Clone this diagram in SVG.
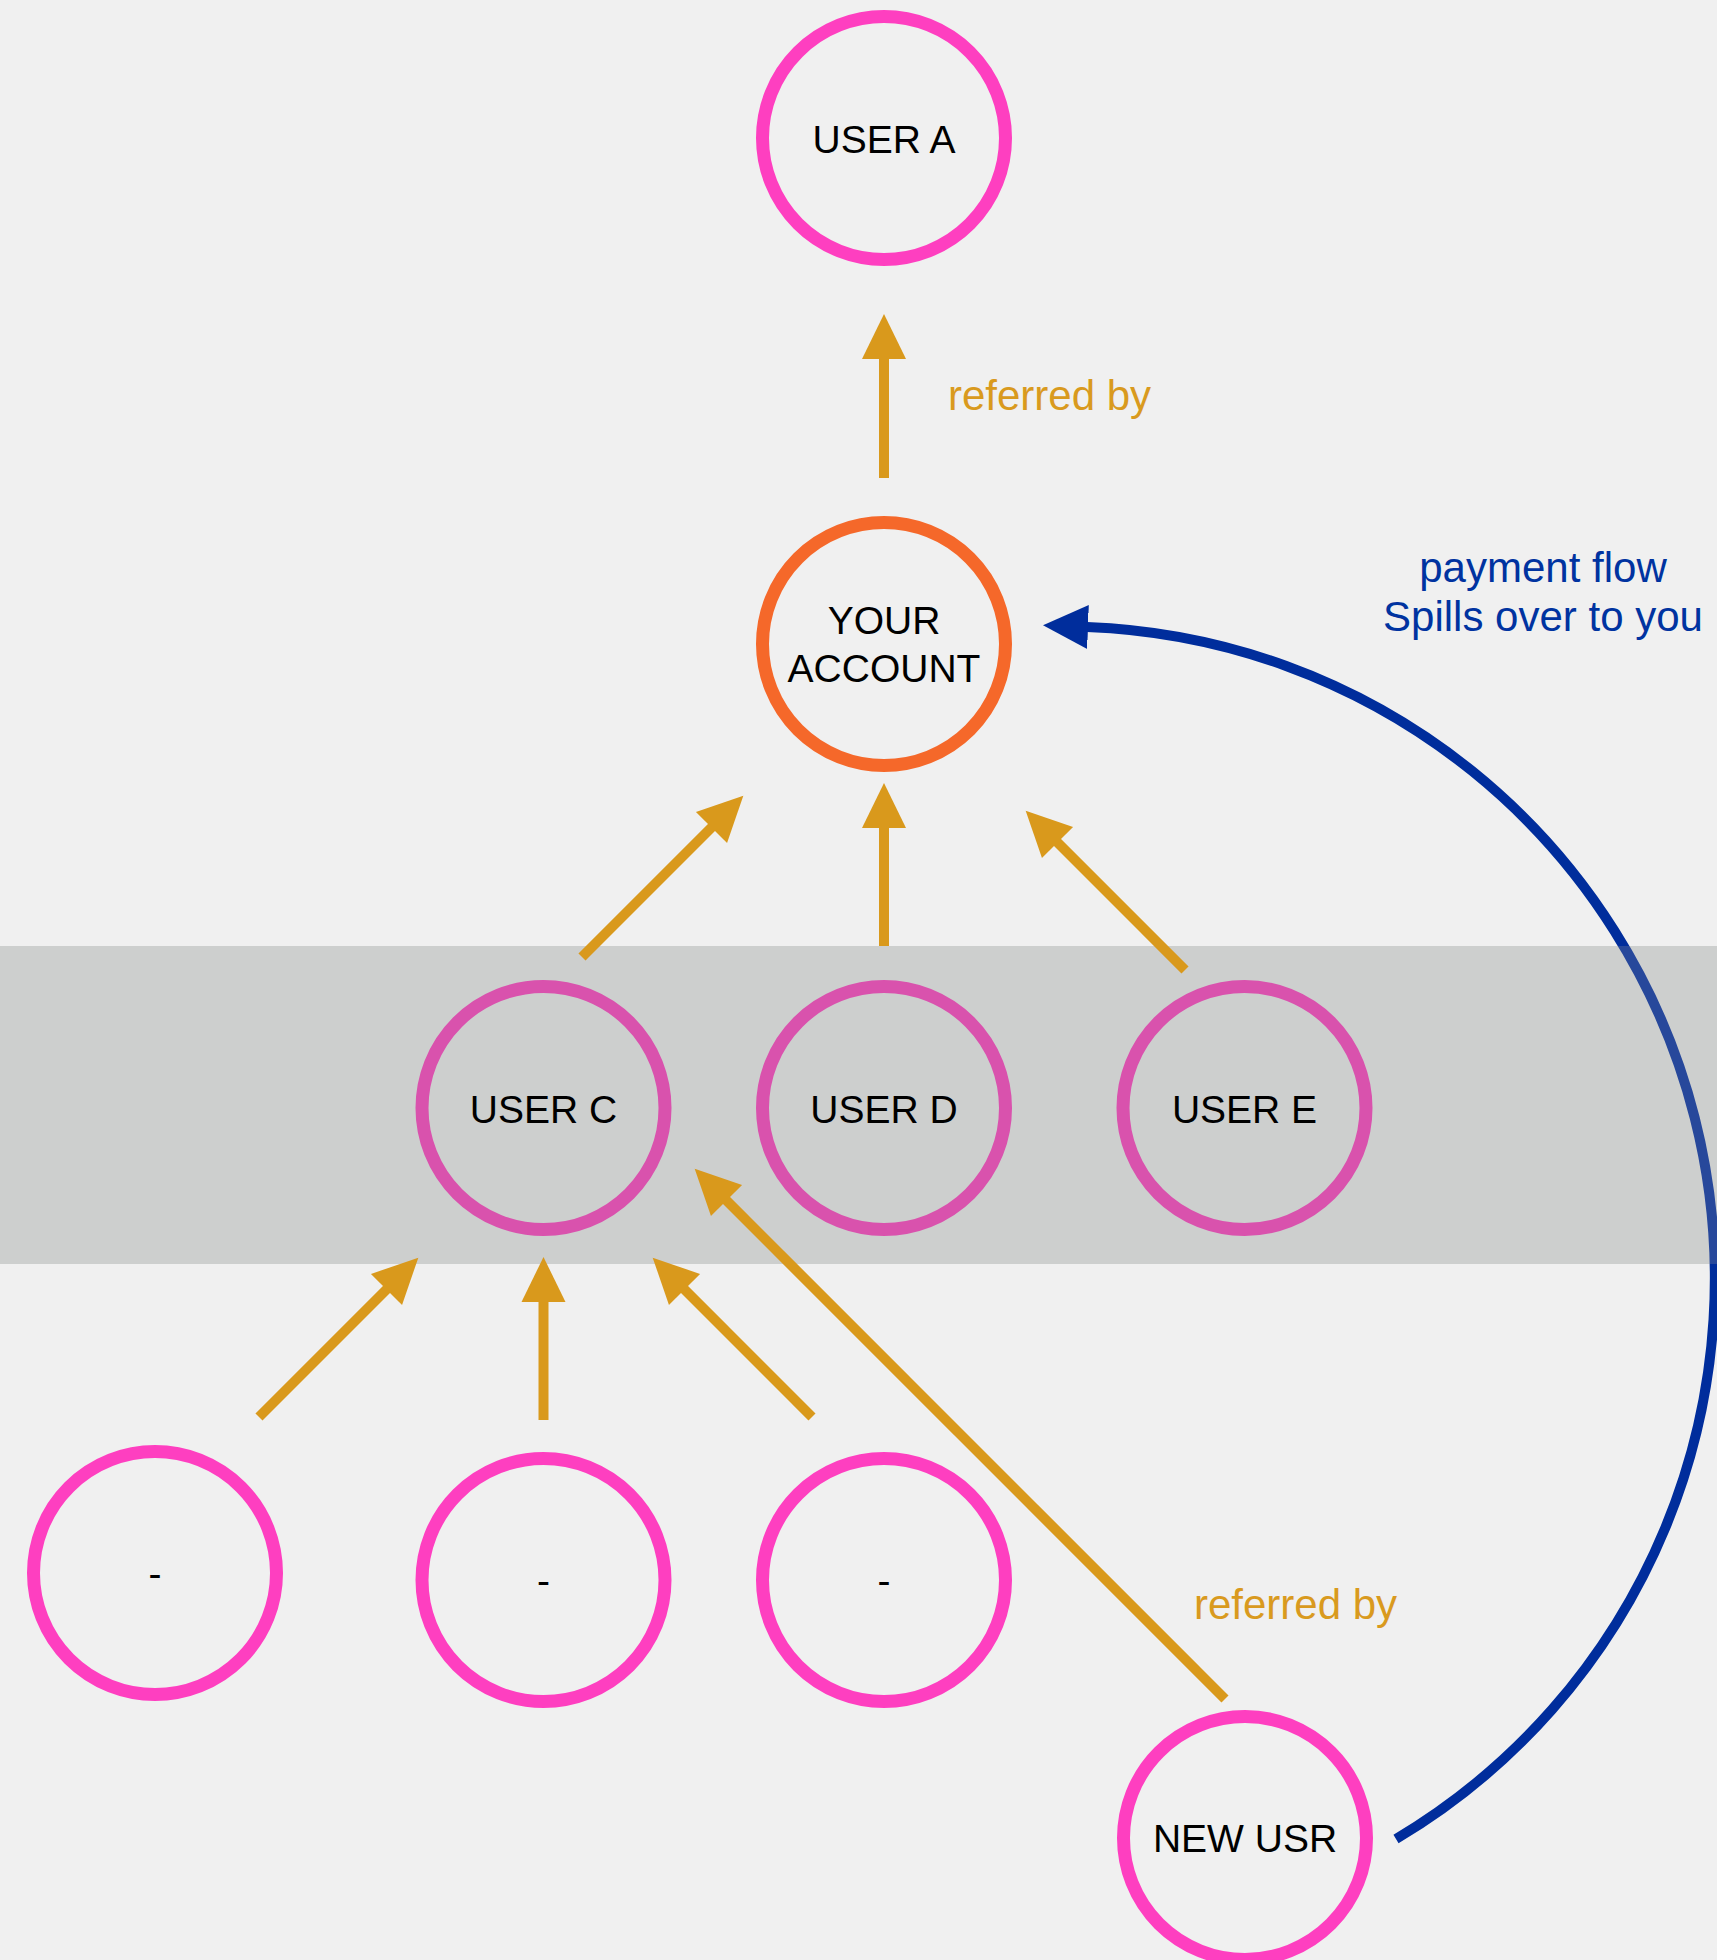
<svg xmlns="http://www.w3.org/2000/svg" width="1717" height="1960" viewBox="0 0 1717 1960">
<style>
  .node { fill: none; stroke-width: 13; }
  .pink { stroke: #fe3fc0; }
  .mid { stroke: #d952ad; }
  .orange { stroke: #f5682a; }
  .lbl { font-family: "Liberation Sans", Arial, sans-serif; font-size: 39px; fill: #000; text-anchor: middle; }
  .ref { font-family: "Liberation Sans", Arial, sans-serif; font-size: 42px; fill: #d99a1e; }
  .pay { font-family: "Liberation Sans", Arial, sans-serif; font-size: 42px; fill: #0033a0; text-anchor: middle; }
  .arr { stroke: #d9991c; stroke-width: 10; fill: none; marker-end: url(#hO); }
</style>
<defs>
  <marker id="hO" markerUnits="userSpaceOnUse" markerWidth="46" markerHeight="46" viewBox="0 -23 46 46" refX="1" refY="0" orient="auto">
    <path d="M0,-22 L45,0 L0,22 z" fill="#d9991c"/>
  </marker>
  <marker id="hB" markerUnits="userSpaceOnUse" markerWidth="46" markerHeight="46" viewBox="0 -23 46 46" refX="1" refY="0" orient="auto">
    <path d="M0,-22 L45,0 L0,22 z" fill="#002d9c"/>
  </marker>
  <linearGradient id="blueBand" gradientUnits="userSpaceOnUse" x1="0" y1="0" x2="0" y2="1960">
    <stop offset="0" stop-color="#002d9c"/>
    <stop offset="0.4827" stop-color="#002d9c"/>
    <stop offset="0.4827" stop-color="#27489b"/>
    <stop offset="0.6449" stop-color="#27489b"/>
    <stop offset="0.6449" stop-color="#002d9c"/>
    <stop offset="1" stop-color="#002d9c"/>
  </linearGradient>
</defs>
<rect x="0" y="0" width="1717" height="1960" fill="#f0f0f0"/>
<rect id="band" x="0" y="946" width="1717" height="318" fill="#cdcfce"/>

<g id="user-a"><circle class="node pink" cx="884" cy="138" r="121.5"/><text class="lbl" x="884" y="153">USER A</text></g>
<g id="your-account"><circle class="node orange" cx="884" cy="644" r="121.5"/><text class="lbl" x="884" y="634">YOUR</text><text class="lbl" x="884" y="682">ACCOUNT</text></g>
<g id="user-c"><circle class="node mid" cx="543.5" cy="1108" r="121.5"/><text class="lbl" x="543.5" y="1123">USER C</text></g>
<g id="user-d"><circle class="node mid" cx="884" cy="1108" r="121.5"/><text class="lbl" x="884" y="1123">USER D</text></g>
<g id="user-e"><circle class="node mid" cx="1244.5" cy="1108" r="121.5"/><text class="lbl" x="1244.5" y="1123">USER E</text></g>
<g id="sub-1"><circle class="node pink" cx="155" cy="1573" r="121.5"/><text class="lbl" x="155" y="1587">-</text></g>
<g id="sub-2"><circle class="node pink" cx="543.5" cy="1580" r="121.5"/><text class="lbl" x="543.5" y="1594">-</text></g>
<g id="sub-3"><circle class="node pink" cx="884" cy="1580" r="121.5"/><text class="lbl" x="884" y="1594">-</text></g>
<g id="new-usr"><circle class="node pink" cx="1245" cy="1838" r="121.5"/><text class="lbl" x="1245" y="1852">NEW USR</text></g>

<g id="connectors">
  <line class="arr" x1="884" y1="478" x2="884" y2="358"/>
  <line class="arr" x1="582" y1="957" x2="712.2" y2="826.8"/>
  <line class="arr" x1="884" y1="946" x2="884" y2="827"/>
  <line class="arr" x1="1185" y1="970" x2="1056.8" y2="841.8"/>
  <line class="arr" x1="259" y1="1417" x2="387.2" y2="1288.8"/>
  <line class="arr" x1="543.5" y1="1420" x2="543.5" y2="1301"/>
  <line class="arr" x1="812" y1="1417" x2="683.8" y2="1288.8"/>
  <line class="arr" x1="1225" y1="1699" x2="725.8" y2="1199.8"/>
  <path d="M1396,1839 A652,652 0 0 0 1087,627" fill="none" stroke="url(#blueBand)" stroke-width="10" marker-end="url(#hB)"/>
</g>

<text class="ref" x="948" y="410">referred by</text>
<text class="ref" x="1194" y="1619">referred by</text>
<text class="pay" x="1543" y="582">payment flow</text>
<text class="pay" x="1543" y="631">Spills over to you</text>
</svg>
